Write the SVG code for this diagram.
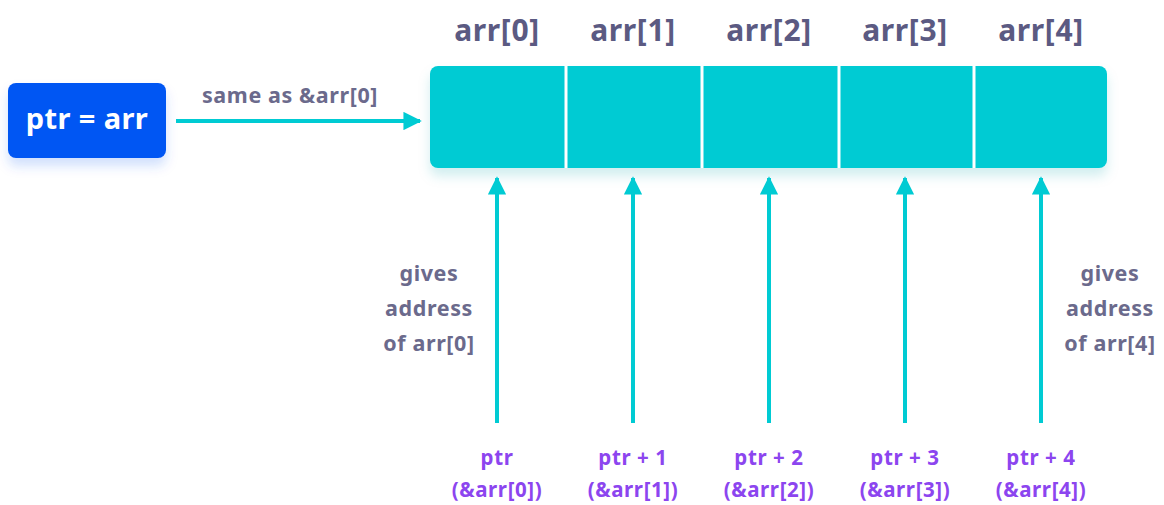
<svg xmlns="http://www.w3.org/2000/svg" width="1164" height="505" viewBox="0 0 1164 505">
<style>
.hdr{font-family:"Noto Sans","Liberation Sans",sans-serif;font-weight:700;font-size:30px;letter-spacing:0.6px;fill:#5b5a82;text-anchor:middle}
.note{font-family:"Noto Sans","Liberation Sans",sans-serif;font-weight:700;font-size:21.5px;letter-spacing:0.6px;fill:#6b6a8c;text-anchor:middle}
.lbl{font-family:"Noto Sans","Liberation Sans",sans-serif;font-weight:700;font-size:20.5px;letter-spacing:0.6px;fill:#8c45ef;text-anchor:middle}
.conn{stroke:#00cbd3;stroke-width:4;fill:none}
.sep{stroke:#ffffff;stroke-width:3}
</style>
<defs>
<marker id="ah" viewBox="0 0 10 10" refX="9" refY="5" markerWidth="4.6" markerHeight="4.6" orient="auto" markerUnits="strokeWidth">
<path d="M0,0 L10,5 L0,10 Z" fill="#00cbd3"/>
</marker>
<filter id="shB" x="-20%" y="-20%" width="140%" height="160%">
<feDropShadow dx="0" dy="8" stdDeviation="6" flood-color="#0556f3" flood-opacity="0.18"/>
</filter>
<filter id="shT" x="-5%" y="-20%" width="110%" height="160%">
<feDropShadow dx="0" dy="8" stdDeviation="6" flood-color="#00a0a8" flood-opacity="0.18"/>
</filter>
</defs>
<rect width="1164" height="505" fill="#ffffff"/>

<g id="ptr-box">
<rect x="8" y="83" width="158" height="75" rx="8" fill="#0556f3" filter="url(#shB)"/>
<text x="87" y="129" font-family="Noto Sans, Liberation Sans, sans-serif" font-weight="700" font-size="29" letter-spacing="0.4" fill="#ffffff" text-anchor="middle">ptr = arr</text>
</g>

<g id="array">
<rect x="430" y="66" width="677" height="102" rx="8" fill="#00cbd3" filter="url(#shT)"/>
<line class="sep" x1="566" y1="66" x2="566" y2="168"/>
<line class="sep" x1="702" y1="66" x2="702" y2="168"/>
<line class="sep" x1="839" y1="66" x2="839" y2="168"/>
<line class="sep" x1="974" y1="66" x2="974" y2="168"/>
<text class="hdr" x="497" y="41">arr[0]</text>
<text class="hdr" x="633" y="41">arr[1]</text>
<text class="hdr" x="769" y="41">arr[2]</text>
<text class="hdr" x="905" y="41">arr[3]</text>
<text class="hdr" x="1041" y="41">arr[4]</text>
</g>

<g id="connectors">
<line class="conn" x1="176" y1="121" x2="420" y2="121" marker-end="url(#ah)"/>
<line class="conn" x1="497" y1="423" x2="497" y2="178" marker-end="url(#ah)"/>
<line class="conn" x1="633" y1="423" x2="633" y2="178" marker-end="url(#ah)"/>
<line class="conn" x1="769" y1="423" x2="769" y2="178" marker-end="url(#ah)"/>
<line class="conn" x1="905" y1="423" x2="905" y2="178" marker-end="url(#ah)"/>
<line class="conn" x1="1041" y1="423" x2="1041" y2="178" marker-end="url(#ah)"/>
</g>

<g id="notes">
<text class="note" x="290" y="103">same as &amp;arr[0]</text>
<text class="note" x="429" y="281">gives</text>
<text class="note" x="429" y="316">address</text>
<text class="note" x="429" y="351">of arr[0]</text>
<text class="note" x="1110" y="281">gives</text>
<text class="note" x="1110" y="316">address</text>
<text class="note" x="1110" y="351">of arr[4]</text>
</g>

<g id="labels">
<text class="lbl" x="497" y="465">ptr</text>
<text class="lbl" x="497" y="497">(&amp;arr[0])</text>
<text class="lbl" x="633" y="465">ptr + 1</text>
<text class="lbl" x="633" y="497">(&amp;arr[1])</text>
<text class="lbl" x="769" y="465">ptr + 2</text>
<text class="lbl" x="769" y="497">(&amp;arr[2])</text>
<text class="lbl" x="905" y="465">ptr + 3</text>
<text class="lbl" x="905" y="497">(&amp;arr[3])</text>
<text class="lbl" x="1041" y="465">ptr + 4</text>
<text class="lbl" x="1041" y="497">(&amp;arr[4])</text>
</g>
</svg>
